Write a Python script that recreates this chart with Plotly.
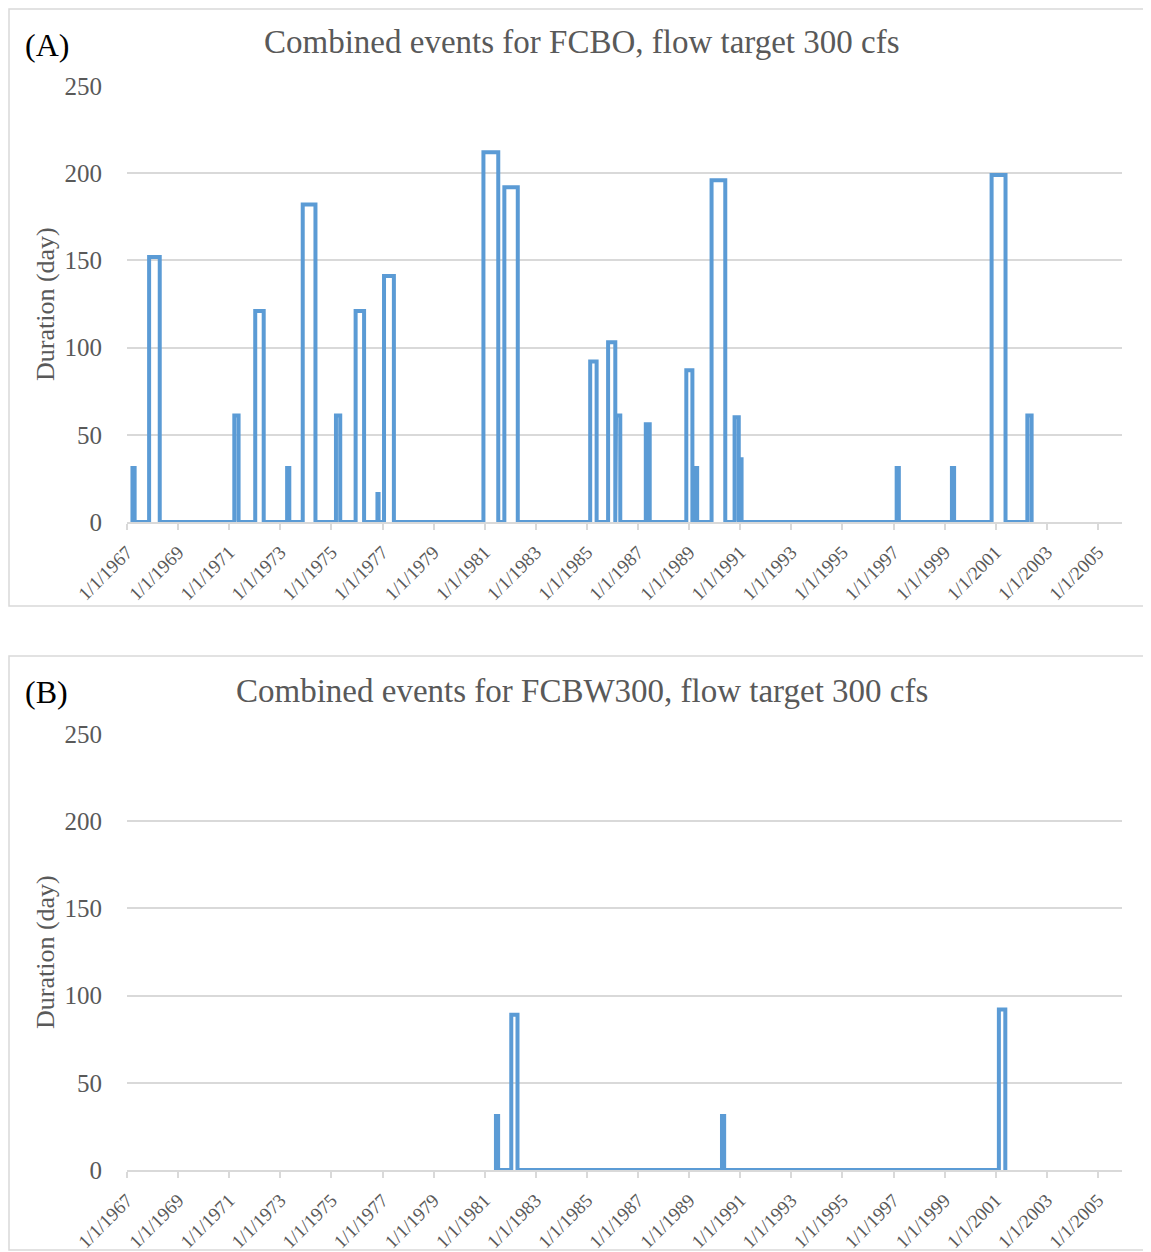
import plotly.graph_objects as go
import pandas as pd

# ---------------- data ----------------
# Panel A: combined events for FCBO (start date, duration in days)
a_event_start = ["1967-03-20", "1967-11-13", "1971-03-15", "1972-01-08", "1973-04-08",
                 "1973-11-17", "1975-03-07", "1975-12-13", "1976-10-20", "1977-01-22",
                 "1980-12-13", "1981-10-08", "1985-02-16", "1985-10-30", "1986-02-20",
                 "1987-04-22", "1988-11-21", "1989-03-25", "1989-11-17", "1990-10-12",
                 "1990-12-15", "1997-02-14", "1999-04-15", "2000-11-02", "2002-03-28"]
a_event_duration = [31, 152, 61, 121, 31,
                    182, 61, 121, 16, 141,
                    212, 192, 92, 103, 61,
                    56, 87, 31, 196, 60,
                    36, 31, 31, 199, 61]

# Panel B: combined events for FCBW300
b_event_start = ["1981-06-10", "1982-01-15", "1990-04-15", "2001-02-14"]
b_event_duration = [31, 89, 31, 92]

titles = ["Combined events for FCBO, flow target 300 cfs",
          "Combined events for FCBW300, flow target 300 cfs"]
panel_labels = ["(A)", "(B)"]
y_title = "Duration (day)"
y_ticks = [0, 50, 100, 150, 200, 250]


def step_series(starts, durations):
    xs, ys = [], []
    for s, d in zip(starts, durations):
        t0 = pd.Timestamp(s)
        t1 = t0 + pd.Timedelta(days=d)
        xs += [t0, t0, t1, t1]
        ys += [0, d, d, 0]
    return xs, ys


# page body has an 8px margin; lay out in page pixels and compensate
OFF = 8
W, H = 1151 - OFF, 1252 - OFF
FONT = "Liberation Serif"
GRAY = "#595959"
GRID = "#d9d9d9"
BLUE = "#5B9BD5"

def px_x(p):
    return (p - OFF) / W

def px_y(p):
    return 1 - (p - OFF) / H

fig = go.Figure()

xa, ya = step_series(a_event_start, a_event_duration)
xb, yb = step_series(b_event_start, b_event_duration)

fig.add_trace(go.Scatter(x=xa, y=ya, mode="lines", line=dict(color=BLUE, width=4),
                         xaxis="x", yaxis="y", showlegend=False))
fig.add_trace(go.Scatter(x=xb, y=yb, mode="lines", line=dict(color=BLUE, width=4),
                         xaxis="x2", yaxis="y2", showlegend=False))

x_dom = [px_x(127), px_x(1122)]
xrange = ["1967-01-01", "2005-12-10"]

xaxis_common = dict(
    type="date", range=xrange, domain=x_dom, automargin=False,
    tick0="1967-01-01", dtick="M24", tickformat="%-m/%-d/%Y",
    tickangle=-45, ticks="outside", ticklen=6, tickcolor=GRID, tickwidth=1.5,
    showline=True, linecolor=GRID, linewidth=1.5, showgrid=False, zeroline=False,
    tickfont=dict(family=FONT, size=19, color=GRAY), ticklabelstandoff=4,
)
yaxis_common = dict(
    range=[0, 250], tickvals=y_ticks, showgrid=True, gridcolor=GRID, gridwidth=1.5,
    zeroline=False, showline=False, ticks="", automargin=False,
    tickfont=dict(family=FONT, size=25, color=GRAY), ticklabelstandoff=24,
)

fig.update_layout(
    width=W, height=H, autosize=False,
    margin=dict(l=0, r=0, t=0, b=0, pad=0),
    paper_bgcolor="white", plot_bgcolor="white",
    xaxis=dict(**xaxis_common, anchor="y"),
    yaxis=dict(**yaxis_common, domain=[px_y(522), px_y(86)], anchor="x"),
    xaxis2=dict(**xaxis_common, anchor="y2"),
    yaxis2=dict(**yaxis_common, domain=[px_y(1170), px_y(734)], anchor="x2"),
)

# panel frames
for top, bot in [(9, 606), (656, 1250)]:
    fig.add_shape(type="rect", xref="paper", yref="paper",
                  x0=px_x(9), x1=px_x(1149), y0=px_y(bot), y1=px_y(top),
                  line=dict(color=GRID, width=1.5), fillcolor="rgba(0,0,0,0)", layer="below")

# titles, panel labels, y titles
for i, (title_y, lab_y, ytitle_y) in enumerate([(42, 45, 304), (691, 692, 952)]):
    fig.add_annotation(text=titles[i], xref="paper", yref="paper",
                       x=px_x(582), y=px_y(title_y), xanchor="center", yanchor="middle",
                       showarrow=False, font=dict(family=FONT, size=33, color=GRAY))
    fig.add_annotation(text=panel_labels[i], xref="paper", yref="paper",
                       x=px_x(23), y=px_y(lab_y), xanchor="left", yanchor="middle",
                       showarrow=False, font=dict(family=FONT, size=32, color="black"))
    fig.add_annotation(text=y_title, xref="paper", yref="paper", textangle=-90,
                       x=px_x(45), y=px_y(ytitle_y), xanchor="center", yanchor="middle",
                       showarrow=False, font=dict(family=FONT, size=26, color=GRAY))

fig.write_html("out.html")
